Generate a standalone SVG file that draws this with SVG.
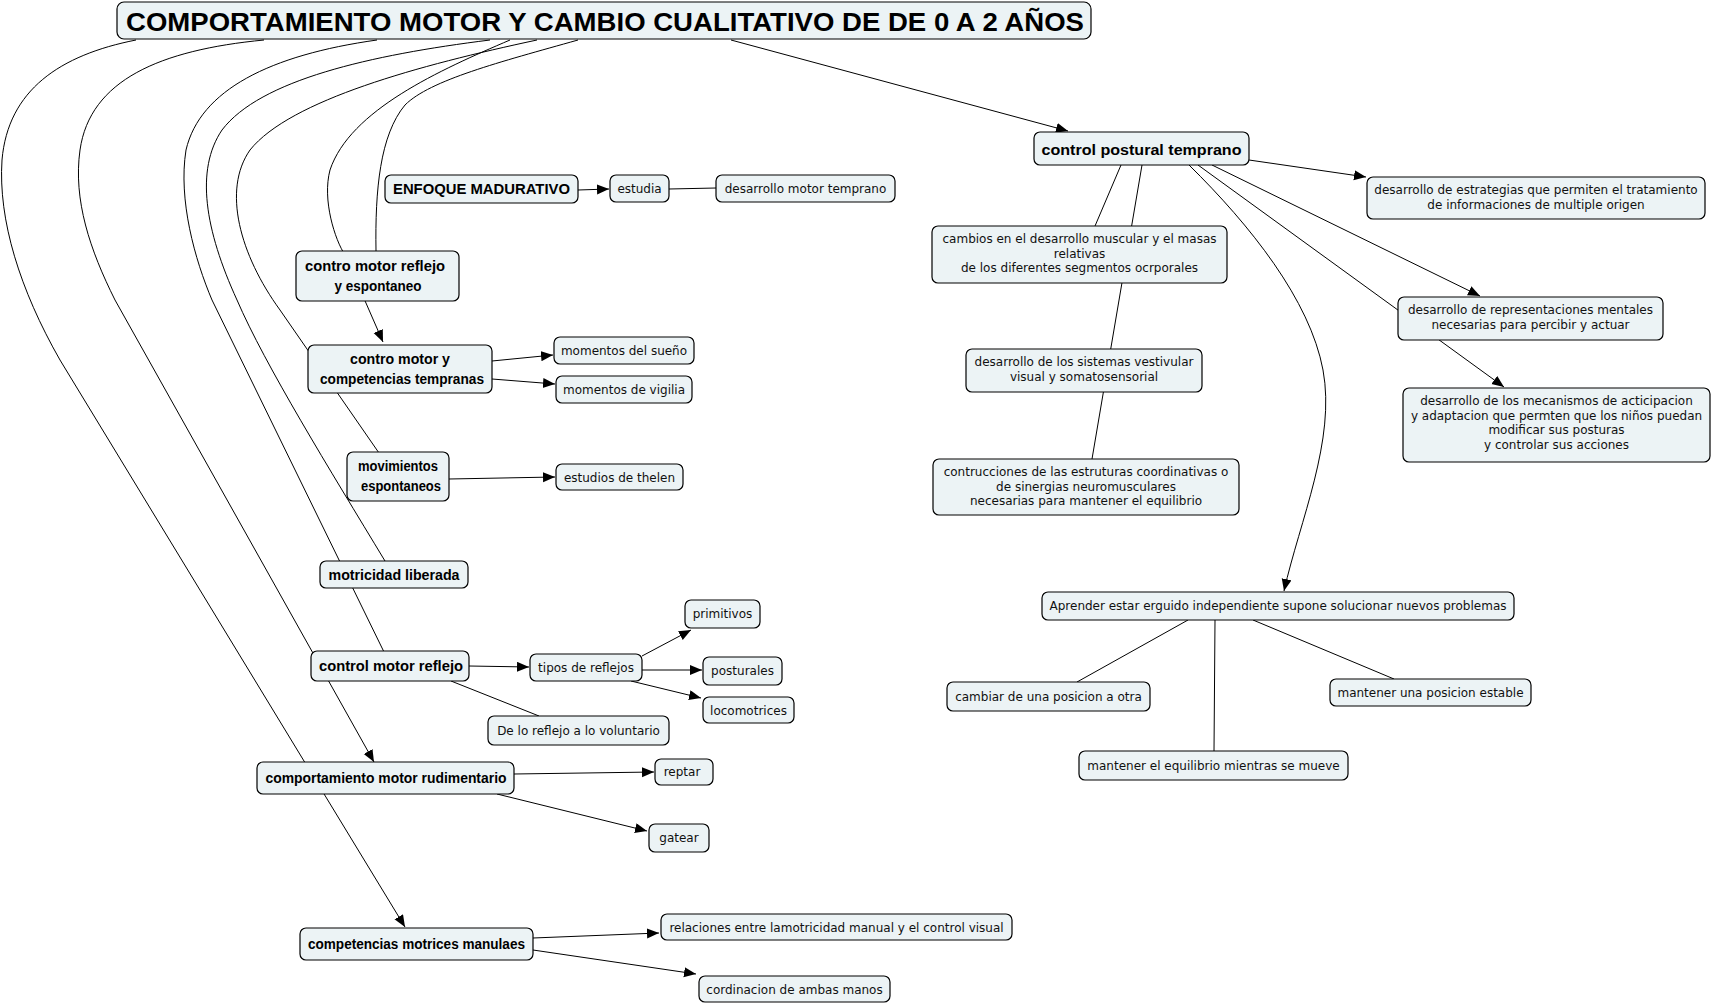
<svg xmlns="http://www.w3.org/2000/svg" width="1712" height="1005" viewBox="0 0 1712 1005">
<style>
.box{fill:#ecf3f5;stroke:#000;stroke-width:1.2}
.t{font-family:"DejaVu Sans","Liberation Sans",sans-serif;font-size:12px;fill:#111;text-anchor:middle}
.b{font-family:"Liberation Sans","DejaVu Sans",sans-serif;font-weight:bold;font-size:14px;fill:#000;text-anchor:middle}
.c{fill:none;stroke:#000;stroke-width:1}
.a{fill:none;stroke:#000;stroke-width:1;marker-end:url(#arr)}
</style>
<defs>
<marker id="arr" markerUnits="userSpaceOnUse" markerWidth="14" markerHeight="12" refX="12" refY="5" orient="auto">
<path d="M0,0 L12,5 L0,10 Z" fill="#000"/>
</marker>
</defs>
<rect width="1712" height="1005" fill="#fff"/>
<g id="connectors">
<path class="a" d="M136,40 C60,55 8,90 2,160 C-2,220 20,290 60,360 L405,927"/>
<path class="a" d="M264,40 C160,50 90,80 80,150 C73,200 90,250 115,300 L374,762"/>
<path class="c" d="M377,40 C270,55 200,90 186,150 C178,200 195,260 212,300 L384,652"/>
<path class="c" d="M490,40 C370,55 260,80 222,130 C195,170 205,230 237,300 C265,365 330,470 385,561"/>
<path class="a" d="M510,40 C440,70 350,110 330,170 C322,200 335,240 345,255 L383,342"/>
<path class="c" d="M537,40 C420,65 290,100 250,150 C222,190 240,255 280,310 L379,453"/>
<path class="c" d="M578,40 C500,62 430,80 405,105 C380,135 375,190 376,251"/>
<line class="a" x1="731" y1="40" x2="1068" y2="131"/>
<line class="a" x1="578" y1="190" x2="609" y2="189"/>
<line class="c" x1="669" y1="189" x2="716" y2="188"/>
<line class="a" x1="492" y1="361" x2="553" y2="355"/>
<line class="a" x1="492" y1="379" x2="555" y2="384"/>
<line class="a" x1="449" y1="479" x2="555" y2="477"/>
<line class="a" x1="469" y1="666" x2="529" y2="667"/>
<line class="c" x1="451" y1="681" x2="539" y2="716"/>
<line class="a" x1="642" y1="656" x2="691" y2="630"/>
<line class="a" x1="642" y1="670" x2="702" y2="670"/>
<line class="a" x1="631" y1="681" x2="701" y2="698"/>
<line class="a" x1="514" y1="774" x2="654" y2="772"/>
<line class="a" x1="497" y1="794" x2="647" y2="831"/>
<line class="a" x1="533" y1="938" x2="659" y2="933"/>
<line class="a" x1="533" y1="950" x2="696" y2="974"/>
<line class="a" x1="1249" y1="160" x2="1366" y2="177"/>
<line class="a" x1="1212" y1="165" x2="1480" y2="296"/>
<line class="a" x1="1198" y1="165" x2="1504" y2="387"/>
<path class="a" d="M1189,165 C1250,225 1310,300 1323,370 C1336,440 1300,520 1284,591"/>
<line class="c" x1="1121" y1="165" x2="1095" y2="226"/>
<line class="c" x1="1142" y1="165" x2="1092" y2="459"/>
<line class="c" x1="1188" y1="620" x2="1077" y2="682"/>
<line class="c" x1="1215" y1="620" x2="1214" y2="751"/>
<line class="c" x1="1253" y1="620" x2="1394" y2="679"/>
</g>
<g id="title">
<rect class="box" x="117" y="2" width="974" height="37" rx="7" stroke-width="1.5"/>
<text x="605" y="31" font-family="Liberation Sans, DejaVu Sans, sans-serif" font-weight="bold" font-size="26" text-anchor="middle" textLength="958" lengthAdjust="spacingAndGlyphs">COMPORTAMIENTO MOTOR Y CAMBIO CUALITATIVO DE DE 0 A 2 AÑOS</text>
</g>
<g id="n-enfoque"><rect class="box" x="385" y="175" width="193" height="28" rx="6"/><text class="b" x="481.5" y="194" textLength="177" lengthAdjust="spacingAndGlyphs">ENFOQUE MADURATIVO</text></g>
<g id="n-estudia"><rect class="box" x="610" y="175" width="59" height="27" rx="6"/><text class="t" x="639.5" y="193">estudia</text></g>
<g id="n-dmt"><rect class="box" x="716" y="175" width="179" height="27" rx="6"/><text class="t" x="805.5" y="193">desarrollo motor temprano</text></g>
<g id="n-cmre"><rect class="box" x="296" y="251" width="163" height="50" rx="6"/><text class="b" x="375" y="271" textLength="140" lengthAdjust="spacingAndGlyphs">contro motor reflejo</text><text class="b" x="378" y="290.5" textLength="87" lengthAdjust="spacingAndGlyphs">y espontaneo</text></g>
<g id="n-cmct"><rect class="box" x="308" y="345" width="184" height="48" rx="6"/><text class="b" x="400" y="364" textLength="100" lengthAdjust="spacingAndGlyphs">contro motor y</text><text class="b" x="402" y="383.5" textLength="164" lengthAdjust="spacingAndGlyphs">competencias tempranas</text></g>
<g id="n-sueno"><rect class="box" x="554" y="337" width="140" height="27" rx="6"/><text class="t" x="624" y="355">momentos del sueño</text></g>
<g id="n-vigilia"><rect class="box" x="556" y="376" width="136" height="27" rx="6"/><text class="t" x="624" y="394">momentos de vigilia</text></g>
<g id="n-movesp"><rect class="box" x="347" y="452" width="102" height="49" rx="6"/><text class="b" x="398" y="471" textLength="80" lengthAdjust="spacingAndGlyphs">movimientos</text><text class="b" x="401" y="490.5" textLength="80" lengthAdjust="spacingAndGlyphs">espontaneos</text></g>
<g id="n-thelen"><rect class="box" x="556" y="464" width="127" height="26" rx="6"/><text class="t" x="619.5" y="481.5">estudios de thelen</text></g>
<g id="n-motlib"><rect class="box" x="320" y="561" width="148" height="27" rx="6"/><text class="b" x="394" y="579.5" textLength="131" lengthAdjust="spacingAndGlyphs">motricidad liberada</text></g>
<g id="n-cmr"><rect class="box" x="311" y="651" width="158" height="30" rx="6"/><text class="b" x="391" y="670.5" textLength="144" lengthAdjust="spacingAndGlyphs">control motor reflejo</text></g>
<g id="n-tipos"><rect class="box" x="530" y="654" width="112" height="27" rx="6"/><text class="t" x="586" y="672">tipos de reflejos</text></g>
<g id="n-prim"><rect class="box" x="685" y="600" width="75" height="28" rx="6"/><text class="t" x="722.5" y="618">primitivos</text></g>
<g id="n-post"><rect class="box" x="703" y="657" width="79" height="28" rx="6"/><text class="t" x="742.5" y="675">posturales</text></g>
<g id="n-loco"><rect class="box" x="703" y="697" width="91" height="26" rx="6"/><text class="t" x="748.5" y="714.5">locomotrices</text></g>
<g id="n-delo"><rect class="box" x="488" y="716" width="181" height="29" rx="6"/><text class="t" x="578.5" y="734.5">De lo reflejo a lo voluntario</text></g>
<g id="n-cmrud"><rect class="box" x="257" y="762" width="257" height="32" rx="6"/><text class="b" x="386" y="782.5" textLength="241" lengthAdjust="spacingAndGlyphs">comportamiento motor rudimentario</text></g>
<g id="n-reptar"><rect class="box" x="655" y="759" width="58" height="26" rx="6"/><text class="t" x="682" y="776">reptar</text></g>
<g id="n-gatear"><rect class="box" x="649" y="824" width="60" height="28" rx="6"/><text class="t" x="679" y="842">gatear</text></g>
<g id="n-cmm"><rect class="box" x="300" y="928" width="233" height="32" rx="6"/><text class="b" x="416.5" y="948.5" textLength="217" lengthAdjust="spacingAndGlyphs">competencias motrices manulaes</text></g>
<g id="n-relac"><rect class="box" x="661" y="914" width="351" height="26" rx="6"/><text class="t" x="836.5" y="931.5">relaciones entre lamotricidad manual y el control visual</text></g>
<g id="n-cord"><rect class="box" x="699" y="976" width="191" height="26" rx="6"/><text class="t" x="794.5" y="993.5">cordinacion de ambas manos</text></g>
<g id="n-cpt"><rect class="box" x="1034" y="132" width="215" height="33" rx="6"/><text class="b" x="1141.5" y="154.5" font-size="16" textLength="200" lengthAdjust="spacingAndGlyphs">control postural temprano</text></g>
<g id="n-estrat"><rect class="box" x="1367" y="177" width="338" height="42" rx="6"/><text class="t" x="1536" y="194">desarrollo de estrategias que permiten el tratamiento<tspan x="1536" dy="14.5">de informaciones de multiple origen</tspan></text></g>
<g id="n-cambios"><rect class="box" x="932" y="226" width="295" height="57" rx="6"/><text class="t" x="1079.5" y="243">cambios en el desarrollo  muscular y el masas<tspan x="1079.5" dy="14.5">relativas</tspan><tspan x="1079.5" dy="14.5">de los diferentes segmentos ocrporales</tspan></text></g>
<g id="n-repr"><rect class="box" x="1398" y="297" width="265" height="43" rx="6"/><text class="t" x="1530.5" y="314">desarrollo de representaciones mentales<tspan x="1530.5" dy="14.5">necesarias para percibir y actuar</tspan></text></g>
<g id="n-vest"><rect class="box" x="966" y="349" width="236" height="43" rx="6"/><text class="t" x="1084" y="366">desarrollo de los sistemas vestivular<tspan x="1084" dy="14.5">visual y somatosensorial</tspan></text></g>
<g id="n-mecan"><rect class="box" x="1403" y="388" width="307" height="74" rx="6"/><text class="t" x="1556.5" y="405">desarrollo de los mecanismos de acticipacion<tspan x="1556.5" dy="14.5">y adaptacion que permten que los niños puedan</tspan><tspan x="1556.5" dy="14.5">modificar sus posturas</tspan><tspan x="1556.5" dy="14.5">y controlar sus acciones</tspan></text></g>
<g id="n-contr"><rect class="box" x="933" y="459" width="306" height="56" rx="6"/><text class="t" x="1086" y="476">contrucciones de las estruturas coordinativas o<tspan x="1086" dy="14.5">de sinergias neuromusculares</tspan><tspan x="1086" dy="14.5">necesarias para mantener el equilibrio</tspan></text></g>
<g id="n-aprender"><rect class="box" x="1042" y="592" width="472" height="28" rx="6"/><text class="t" x="1278" y="610">Aprender estar erguido independiente supone solucionar nuevos problemas</text></g>
<g id="n-cambiar"><rect class="box" x="947" y="682" width="203" height="29" rx="6"/><text class="t" x="1048.5" y="700.5">cambiar de una posicion a otra</text></g>
<g id="n-estable"><rect class="box" x="1330" y="679" width="201" height="27" rx="6"/><text class="t" x="1430.5" y="697">mantener una posicion estable</text></g>
<g id="n-equil"><rect class="box" x="1079" y="751" width="269" height="29" rx="6"/><text class="t" x="1213.5" y="769.5">mantener el equilibrio mientras se mueve</text></g>
</svg>
